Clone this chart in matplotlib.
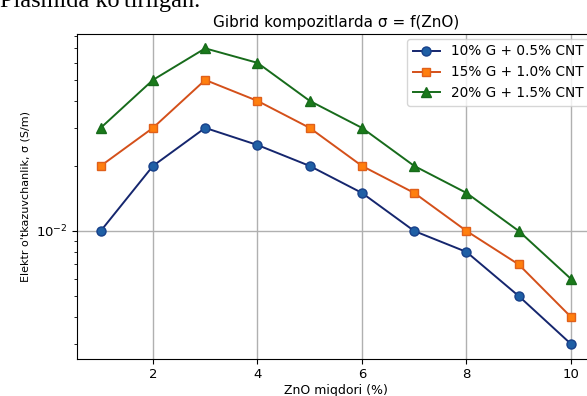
import matplotlib
matplotlib.use("Agg")
import matplotlib.pyplot as plt

# ZnO content (%) and conductivity (S/m) for the three hybrid composites
zno = [1, 2, 3, 4, 5, 6, 7, 8, 9, 10]
sigma_g10 = [0.010, 0.020, 0.030, 0.025, 0.020, 0.015, 0.010, 0.008, 0.005, 0.003]
sigma_g15 = [0.020, 0.030, 0.050, 0.040, 0.030, 0.020, 0.015, 0.010, 0.007, 0.004]
sigma_g20 = [0.030, 0.050, 0.070, 0.060, 0.040, 0.030, 0.020, 0.015, 0.010, 0.006]
labels = ["10% G + 0.5% CNT", "15% G + 1.0% CNT", "20% G + 1.5% CNT"]

fig = plt.figure(figsize=(5.87, 3.96), dpi=100)
# axes runs past the right edge: the reference is a cropped screenshot
ax = fig.add_axes([0.1315, 0.094, 0.8813, 0.8212])

ax.plot(zno, sigma_g10, "-o", color="#15266e", mfc="#1f5fa5", mec="#17408a",
        lw=1.4, ms=6.5, label=labels[0])
ax.plot(zno, sigma_g15, "-s", color="#d4501a", mfc="#ff7f0e", mec="#e0601a",
        lw=1.4, ms=6, label=labels[1])
ax.plot(zno, sigma_g20, "-^", color="#176b1b", mfc="#1a7a1a", mec="#176b1b",
        lw=1.4, ms=6.5, label=labels[2])

ax.set_yscale("log")
ax.grid(True, color="#b0b0b0", lw=1.0)
ax.set_title("Gibrid kompozitlarda σ = f(ZnO)", fontsize=11, pad=5)
ax.set_xlabel("ZnO miqdori (%)", fontsize=9, labelpad=2)
ax.set_ylabel("Elektr o'tkazuvchanlik, σ (S/m)", fontsize=8)
ax.tick_params(labelsize=9.5)
ax.legend(loc="upper right", fontsize=9.8, borderaxespad=0.4)

# cut-off line of document text above the chart
fig.text(0.0, 0.983, "Plasmida ko'tirilgan.", family="Liberation Serif",
         fontsize=17.5, va="baseline", ha="left")

fig.savefig("out.png", dpi=100)
